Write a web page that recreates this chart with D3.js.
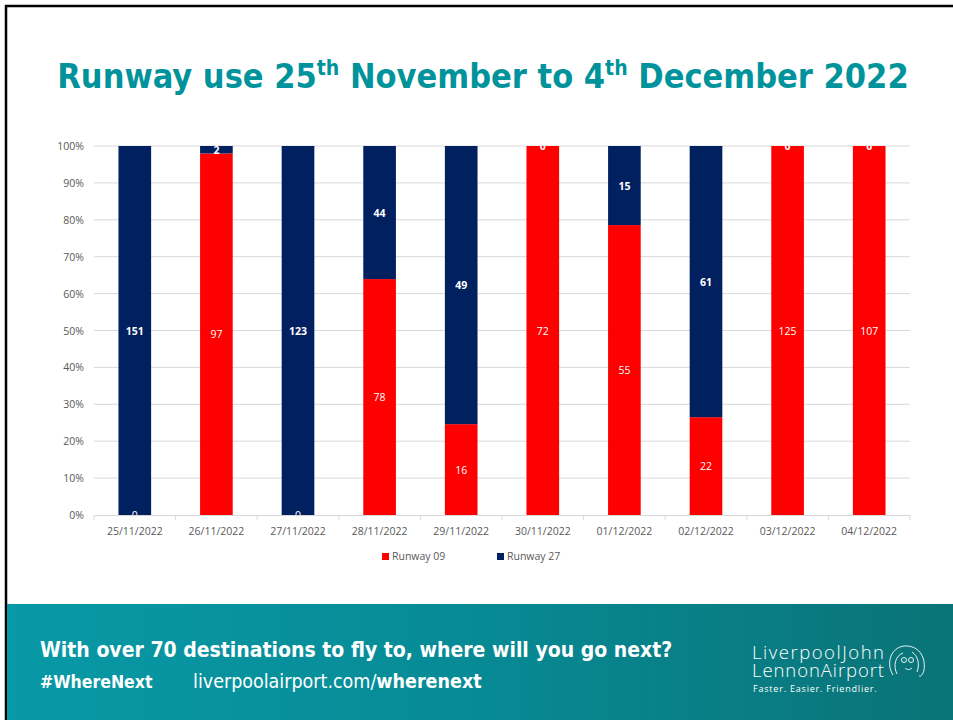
<!DOCTYPE html>
<html>
<head>
<meta charset="utf-8">
<script src="https://cdn.jsdelivr.net/npm/d3@7"></script>
<style>
  body { margin: 0; background: #fff; }
  svg { display: block; }
</style>
</head>
<body>
<svg id="chart" width="953" height="720"></svg>
<script>
// chart values
var dates = ["25/11/2022", "26/11/2022", "27/11/2022", "28/11/2022", "29/11/2022",
             "30/11/2022", "01/12/2022", "02/12/2022", "03/12/2022", "04/12/2022"];
var runway09 = [0, 97, 0, 78, 16, 72, 55, 22, 125, 107];
var runway27 = [151, 2, 123, 44, 49, 0, 15, 61, 0, 0];
var yTicks = [0, 0.1, 0.2, 0.3, 0.4, 0.5, 0.6, 0.7, 0.8, 0.9, 1];

var svg = d3.select("#chart");
var W = 953, H = 720;

var red = "#ff0000", navy = "#002060", teal = "#00939b";
var font = "'Open Sans', 'Noto Sans', sans-serif";
var cond = "'DejaVu Sans Condensed', 'DejaVu Sans', sans-serif";

// slide frame
svg.append("rect").attr("x", 6).attr("y", 6).attr("width", W).attr("height", H)
    .attr("fill", "none").attr("stroke", "#000").attr("stroke-width", 2.5);

// title
var title = svg.append("text")
    .attr("x", 483).attr("y", 88)
    .attr("text-anchor", "middle")
    .attr("font-family", cond)
    .attr("font-stretch", "condensed")
    .attr("font-weight", "bold")
    .attr("font-size", 34)
    .attr("fill", teal);
title.append("tspan").text("Runway use 25");
title.append("tspan").text("th").attr("font-size", 21).attr("dy", -13);
title.append("tspan").text(" November to 4").attr("dy", 13);
title.append("tspan").text("th").attr("font-size", 21).attr("dy", -13);
title.append("tspan").text(" December 2022").attr("dy", 13);

// plot area
var plotL = 94, plotR = 910, plotT = 146, plotB = 515;

var x = d3.scaleBand().domain(dates).range([plotL, plotR]).paddingInner(0.6).paddingOuter(0.3);
var y = d3.scaleLinear().domain([0, 1]).range([plotB, plotT]);

// grid
svg.append("g").selectAll("line").data(yTicks.slice(1)).join("line")
    .attr("x1", plotL).attr("x2", plotR)
    .attr("y1", function (d) { return y(d); }).attr("y2", function (d) { return y(d); })
    .attr("stroke", "#d9d9d9").attr("stroke-width", 1);

// y axis labels
svg.append("g").selectAll("text").data(yTicks).join("text")
    .attr("x", 84).attr("y", function (d) { return y(d) + 4; })
    .attr("text-anchor", "end")
    .attr("font-family", font).attr("font-size", 10.5).attr("fill", "#595959")
    .text(function (d) { return Math.round(d * 100) + "%"; });

// stacked share data
var rows = dates.map(function (d, i) {
    var t = runway09[i] + runway27[i];
    return { date: d, r09: runway09[i], r27: runway27[i], p09: runway09[i] / t, p27: runway27[i] / t };
});

var bars = svg.append("g");
bars.selectAll("rect.r09").data(rows).join("rect")
    .attr("class", "r09")
    .attr("x", function (d) { return x(d.date); })
    .attr("width", x.bandwidth())
    .attr("y", function (d) { return y(d.p09); })
    .attr("height", function (d) { return y(0) - y(d.p09); })
    .attr("fill", red);
bars.selectAll("rect.r27").data(rows).join("rect")
    .attr("class", "r27")
    .attr("x", function (d) { return x(d.date); })
    .attr("width", x.bandwidth())
    .attr("y", function (d) { return y(1); })
    .attr("height", function (d) { return y(d.p09) - y(1); })
    .attr("fill", navy);

// x axis
var xAxis = d3.axisBottom(x).tickSize(5).tickSizeOuter(0);
var ax = svg.append("g").attr("transform", "translate(0," + plotB + ")").call(xAxis);
ax.select(".domain").attr("stroke", "#d9d9d9");
ax.selectAll(".tick line").attr("stroke", "#d9d9d9")
    .attr("transform", "translate(" + (x.step() / 2) + ",0)");
ax.append("line").attr("x1", plotL).attr("x2", plotL).attr("y1", 0).attr("y2", 5).attr("stroke", "#d9d9d9");
ax.selectAll(".tick text")
    .attr("font-family", font).attr("font-size", 10.5).attr("fill", "#595959").attr("dy", "1.15em");

// labels clipped to the plot area
svg.append("clipPath").attr("id", "plotClip")
    .append("rect").attr("x", plotL).attr("y", plotT).attr("width", plotR - plotL).attr("height", plotB - plotT);

var labels = svg.append("g").attr("clip-path", "url(#plotClip)")
    .attr("font-family", font).attr("font-size", 10.5).attr("fill", "#fff").attr("text-anchor", "middle");
labels.selectAll("text.l09").data(rows).join("text")
    .attr("class", "l09")
    .attr("x", function (d) { return x(d.date) + x.bandwidth() / 2; })
    .attr("y", function (d) { return (y(0) + y(d.p09)) / 2 + 4; })
    .text(function (d) { return d.r09; });
labels.selectAll("text.l27").data(rows).join("text")
    .attr("class", "l27")
    .attr("font-weight", "bold")
    .attr("x", function (d) { return x(d.date) + x.bandwidth() / 2; })
    .attr("y", function (d) { return (y(d.p09) + y(1)) / 2 + 4; })
    .text(function (d) { return d.r27; });

// legend
var legend = svg.append("g").attr("font-family", font).attr("font-size", 10.5).attr("fill", "#595959");
var items = [{ name: "Runway 09", color: red, x: 382 }, { name: "Runway 27", color: navy, x: 497 }];
items.forEach(function (it) {
    legend.append("rect").attr("x", it.x).attr("y", 553).attr("width", 7).attr("height", 7).attr("fill", it.color);
    legend.append("text").attr("x", it.x + 10).attr("y", 560).text(it.name);
});

// footer band
var grad = svg.append("defs").append("linearGradient").attr("id", "foot")
    .attr("x1", "0%").attr("x2", "100%").attr("y1", "0%").attr("y2", "0%");
grad.append("stop").attr("offset", "0%").attr("stop-color", "#0899a6");
grad.append("stop").attr("offset", "45%").attr("stop-color", "#078c97");
grad.append("stop").attr("offset", "100%").attr("stop-color", "#0a7377");
svg.append("rect").attr("x", 7).attr("y", 604).attr("width", W - 7).attr("height", H - 604)
    .attr("fill", "url(#foot)");

svg.append("text").attr("x", 40).attr("y", 657)
    .attr("font-family", cond).attr("font-stretch", "condensed").attr("font-weight", "bold")
    .attr("font-size", 21).attr("fill", "#fff")
    .text("With over 70 destinations to fly to, where will you go next?");
svg.append("text").attr("x", 40).attr("y", 688)
    .attr("font-family", cond).attr("font-stretch", "condensed").attr("font-weight", "bold")
    .attr("font-size", 17.5).attr("fill", "#fff")
    .text("#WhereNext");
var url = svg.append("text").attr("x", 193).attr("y", 688)
    .attr("font-family", cond).attr("font-stretch", "condensed")
    .attr("font-size", 19.5).attr("fill", "#fff");
url.append("tspan").text("liverpoolairport.com/");
url.append("tspan").attr("font-weight", "bold").text("wherenext");

// logo text
var logo = svg.append("g").attr("fill", "#fff").attr("font-family", "'Open Sans', sans-serif");
logo.append("text").attr("x", 752).attr("y", 659).attr("font-size", 18.5).attr("font-weight", 300)
    .attr("textLength", 132).text("LiverpoolJohn");
logo.append("text").attr("x", 752).attr("y", 677).attr("font-size", 18.5).attr("font-weight", 300)
    .attr("textLength", 132).text("LennonAirport");
logo.append("text").attr("x", 753).attr("y", 692).attr("font-size", 9).attr("letter-spacing", 0.8).text("Faster. Easier. Friendlier.");

// logo face sketch
var face = svg.append("g").attr("fill", "none").attr("stroke", "#fff").attr("stroke-width", 0.9);
face.append("path").attr("d", "M893,675 C886,664 890,648 904,646 C918,645 926,656 924,670 C923,674 921,677 919,676");
face.append("path").attr("d", "M897,674 C893,666 895,656 903,653 M912,652 C918,656 920,664 917,672");
face.append("circle").attr("cx", 904).attr("cy", 660).attr("r", 2.5);
face.append("circle").attr("cx", 911).attr("cy", 660).attr("r", 2.5);
face.append("path").attr("d", "M905,668 C907,670 910,670 912,668");
</script>
</body>
</html>
